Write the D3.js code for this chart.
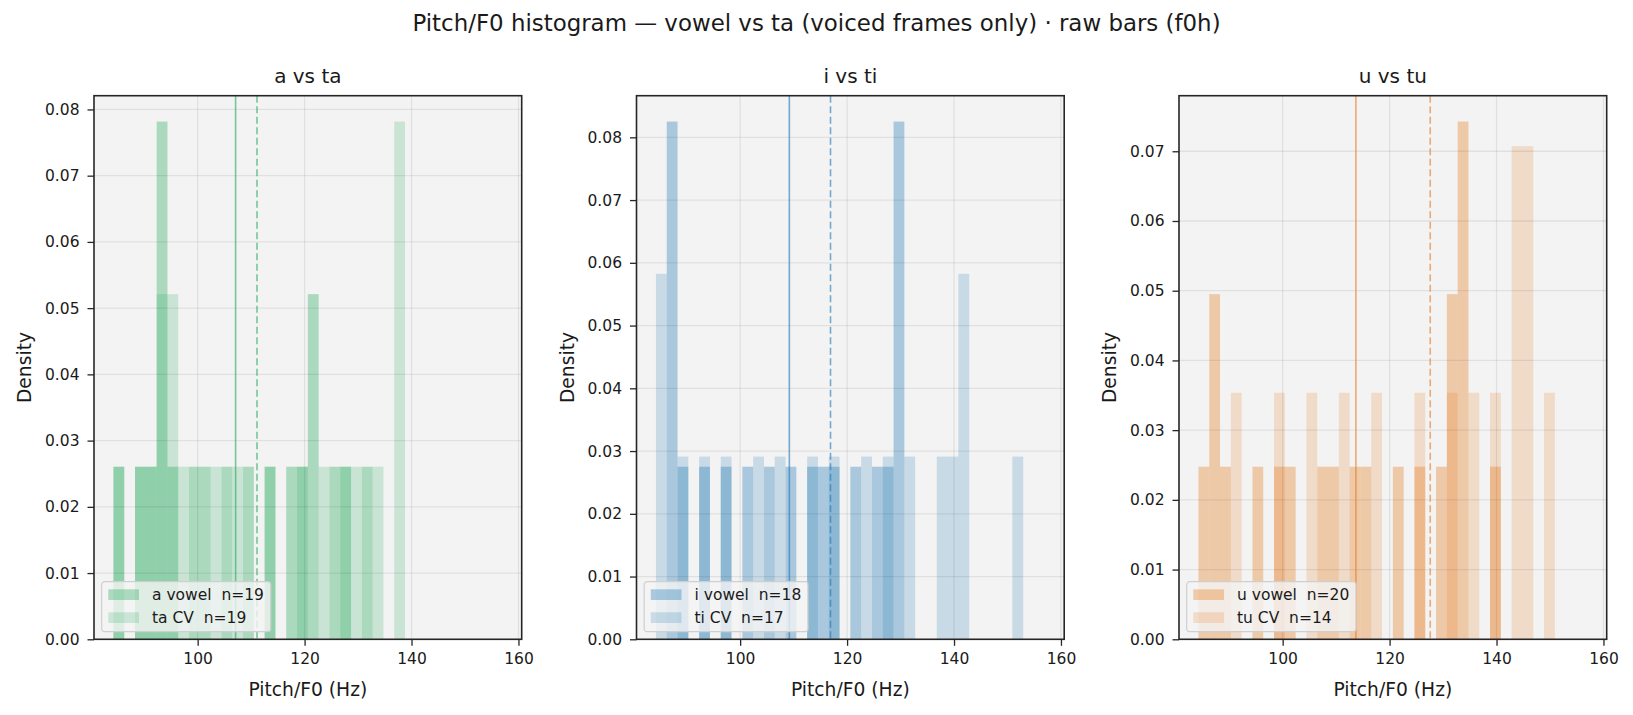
<!DOCTYPE html>
<html><head><meta charset="utf-8">
<script src="https://cdn.jsdelivr.net/npm/d3@7"></script>
<style>
body{margin:0;background:#fff}
text{font-family:"DejaVu Sans",sans-serif;fill:#1a1a1a}
</style>
</head><body>
<svg id="chart" width="1633" height="715"></svg>
<script>
// ---- data ----
const binStart = 84.25;      // Hz, left edge of first bin
const binWidth = 2.02;       // Hz
const nBins = 36;
const xTicks = [100, 120, 140, 160];
const yTicksA = [0, 0.01, 0.02, 0.03, 0.04, 0.05, 0.06, 0.07, 0.08];
const yTicksI = [0, 0.01, 0.02, 0.03, 0.04, 0.05, 0.06, 0.07, 0.08];
const yTicksU = [0, 0.01, 0.02, 0.03, 0.04, 0.05, 0.06, 0.07];
const panelTitles = ["a vs ta", "i vs ti", "u vs tu"];
const vowelNames = ["a vowel", "i vowel", "u vowel"];
const cvNames = ["ta CV", "ti CV", "tu CV"];
// counts per bin (36 bins)
const aVowel = [1,0,1,1,3,1,0,1,1,0,1,0,1,0,1,0,1,1,2,0,1,1,0,1,0,0,0,0,0,0,0,0,0,0,0,0];
const taCV   = [1,0,1,1,2,2,1,0,0,1,0,1,0,0,1,0,0,1,0,1,0,1,1,0,1,0,3,0,0,0,0,0,0,0,0,0];
const iVowel = [0,3,1,0,1,0,1,0,1,0,1,0,1,0,1,1,1,0,1,0,1,1,3,0,0,0,0,0,0,0,0,0,0,0,0,0];
const tiCV   = [2,0,1,0,1,0,1,0,0,1,0,1,0,0,1,0,1,0,0,1,0,1,0,1,0,0,1,1,2,0,0,0,0,1,0,0];
const uVowel = [1,2,1,0,0,1,0,1,1,0,0,1,1,0,1,1,0,0,1,0,1,0,1,2,3,0,0,1,0,0,0,0,0,0,0,0];
const tuCV   = [0,0,0,1,0,0,0,1,0,0,1,0,0,1,0,0,1,0,0,0,1,0,0,1,0,1,0,1,0,2,2,0,1,0,0,0];
// mean F0 (Hz) per series
const vowelMeans = [107.1, 109.2, 113.7];
const cvMeans = [111.1, 116.9, 127.6];
const colors = ["#23a85c", "#1f77b4", "#e67a1e"];

const panels = [
  {vowel: aVowel, cv: taCV, yTicks: yTicksA},
  {vowel: iVowel, cv: tiCV, yTicks: yTicksI},
  {vowel: uVowel, cv: tuCV, yTicks: yTicksU}
];

// ---- layout ----
const svg = d3.select("#chart");
const W = 427.7, H = 543.6, axTop = 95.7;
const lefts = [94, 636.5, 1179];
const lo = binStart, hi = binStart + nBins * binWidth, span = hi - lo;

svg.append("text").attr("x", 816.5).attr("y", 31).attr("text-anchor", "middle")
  .style("font-size", "22.9px").text("Pitch/F0 histogram — vowel vs ta (voiced frames only) · raw bars (f0h)");

panels.forEach((p, pi) => {
  const col = colors[pi];
  const nV = d3.sum(p.vowel), nC = d3.sum(p.cv);
  const dens = (arr, n) => arr.map((c, k) => ({x0: binStart + k * binWidth, x1: binStart + (k + 1) * binWidth, d: c / (n * binWidth)}));
  const vD = dens(p.vowel, nV), cD = dens(p.cv, nC);
  const maxD = d3.max(vD.concat(cD), d => d.d);
  const x = d3.scaleLinear().domain([lo - 0.05 * span, hi + 0.05 * span]).range([0, W]);
  const y = d3.scaleLinear().domain([0, maxD * 1.05]).range([H, 0]);
  const g = svg.append("g").attr("transform", `translate(${lefts[pi]},${axTop})`);

  g.append("rect").attr("width", W).attr("height", H).attr("fill", "#f3f3f3");

  // bars
  g.append("g").selectAll("rect").data(vD.filter(d => d.d > 0)).join("rect")
    .attr("x", d => x(d.x0)).attr("width", d => x(d.x1) - x(d.x0))
    .attr("y", d => y(d.d)).attr("height", d => y(0) - y(d.d))
    .attr("fill", col).attr("fill-opacity", 0.35);
  g.append("g").selectAll("rect").data(cD.filter(d => d.d > 0)).join("rect")
    .attr("x", d => x(d.x0)).attr("width", d => x(d.x1) - x(d.x0))
    .attr("y", d => y(d.d)).attr("height", d => y(0) - y(d.d))
    .attr("fill", col).attr("fill-opacity", 0.2);

  // grid
  const xd = x.domain();
  g.append("g").selectAll("line").data(xTicks.filter(t => t >= xd[0] && t <= xd[1])).join("line")
    .attr("x1", d => x(d)).attr("x2", d => x(d)).attr("y1", 0).attr("y2", H)
    .attr("stroke", "#000").attr("stroke-opacity", 0.075).attr("stroke-width", 1.3);
  g.append("g").selectAll("line").data(p.yTicks).join("line")
    .attr("x1", 0).attr("x2", W).attr("y1", d => y(d)).attr("y2", d => y(d))
    .attr("stroke", "#000").attr("stroke-opacity", 0.075).attr("stroke-width", 1.3);

  // mean lines
  g.append("line").attr("x1", x(vowelMeans[pi])).attr("x2", x(vowelMeans[pi])).attr("y1", 0).attr("y2", H)
    .attr("stroke", col).attr("stroke-opacity", 0.6).attr("stroke-width", 1.6);
  g.append("line").attr("x1", x(cvMeans[pi])).attr("x2", x(cvMeans[pi])).attr("y1", 0).attr("y2", H)
    .attr("stroke", col).attr("stroke-opacity", 0.6).attr("stroke-width", 1.6).attr("stroke-dasharray", "7,3.5");

  // axes
  const xa = g.append("g").attr("transform", `translate(0,${H})`)
    .call(d3.axisBottom(x).tickValues(xTicks).tickFormat(d3.format("d")).tickSize(6.5).tickPadding(7));
  const ya = g.append("g")
    .call(d3.axisLeft(y).tickValues(p.yTicks).tickFormat(d3.format(".2f")).tickSize(6.5).tickPadding(8));
  [xa, ya].forEach(a => {
    a.select(".domain").remove();
    a.selectAll(".tick line").attr("stroke", "#262626").attr("stroke-width", 1.3);
    a.selectAll(".tick text").style("font-size", "15.5px").style("font-family", "DejaVu Sans").attr("fill", "#1a1a1a");
  });

  // spines
  g.append("rect").attr("width", W).attr("height", H).attr("fill", "none")
    .attr("stroke", "#262626").attr("stroke-width", 1.6);

  // titles / labels
  g.append("text").attr("x", W / 2).attr("y", -12.5).attr("text-anchor", "middle")
    .style("font-size", "20px").text(panelTitles[pi]);
  g.append("text").attr("x", W / 2).attr("y", H + 57).attr("text-anchor", "middle")
    .style("font-size", "18.7px").text("Pitch/F0 (Hz)");
  g.append("text").attr("transform", `translate(${-63},${H / 2}) rotate(-90)`).attr("text-anchor", "middle")
    .style("font-size", "18.7px").text("Density");

  // legend
  const lg = g.append("g").attr("transform", `translate(7.7,${H - 7.6 - 50})`);
  const box = lg.append("rect").attr("height", 50).attr("rx", 3)
    .attr("fill", "#f4f4f4").attr("fill-opacity", 0.8).attr("stroke", "#cfcfcf").attr("stroke-width", 1.2);
  const labels = [vowelNames[pi] + "  n=" + nV, cvNames[pi] + "  n=" + nC];
  const ops = [0.35, 0.2];
  let maxW = 0;
  labels.forEach((lab, i) => {
    lg.append("rect").attr("x", 6.6).attr("y", 7.6 + i * 23).attr("width", 30.7).attr("height", 10.7)
      .attr("fill", col).attr("fill-opacity", ops[i]);
    const t = lg.append("text").attr("x", 50.3).attr("y", 18.5 + i * 23)
      .style("font-size", "15.5px").style("white-space", "pre").text(lab);
    maxW = Math.max(maxW, t.node().getComputedTextLength());
  });
  box.attr("width", 50.3 + maxW + 6.7);
});
</script>
</body></html>
